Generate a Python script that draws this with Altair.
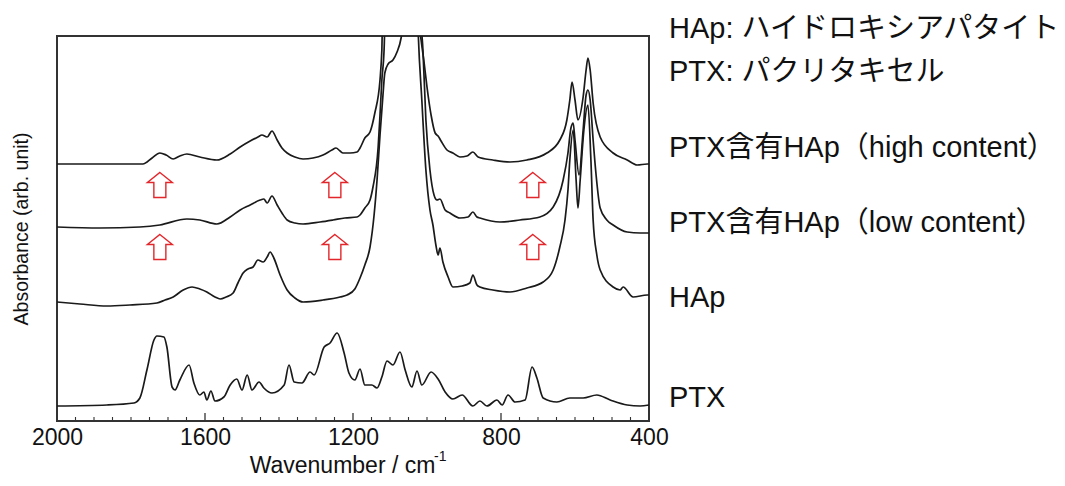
import altair as alt
import pandas as pd

# ---------------- data ----------------
HIGH_WN = [2000,1884,1768,1743,1722,1705,1686,1668,1649,1614,1568,1532,1505,1478,1457,1446,1432,1419,1405,1392,
           1378,1357,1335,1308,1281,1257,1246,1235,1227,1208,1189,1181,1168,1154,1141,1127,1122,1111,1073,1030,
           1022,1016,1008,1000,989,978,970,962,946,930,911,892,876,862,822,776,730,676,641,622,
           614,608,600,592,578,570,565,559,551,532,497,459,432,405,400]
HIGH_ABS = [257,257,257,263,268,266,262,265,267,264,261,267,274,280,284,286,284,290,281,273,
            268,264,262,263,266,271,273,270,268,268,269,273,283,289,308,341,371,571,821,571,
            401,381,359,334,306,288,285,280,271,268,264,265,269,264,261,259,261,268,281,301,
            321,339,321,301,324,351,363,351,318,284,268,261,256,257,257]

LOW_WN = [2000,1884,1776,1722,1649,1614,1568,1532,1505,1478,1451,1441,1432,1419,1405,1392,1378,1357,1335,1289,
          1254,1222,1189,1181,1168,1154,1146,1132,1127,1122,1116,1105,1068,1027,1016,1011,1003,992,981,973,
          965,951,938,911,889,876,865,857,803,749,695,659,632,619,611,605,600,589,578,570,
          565,559,551,543,532,514,497,459,424,400]
LOW_ABS = [194,193,194,196,202,201,197,204,211,216,221,222,218,225,216,208,201,198,197,199,
           201,203,204,206,213,221,234,274,306,341,371,571,871,571,401,371,301,251,226,221,
           222,211,208,203,204,209,204,203,199,201,204,214,241,268,293,298,281,246,291,326,
           331,321,281,246,213,201,196,189,188,188]

HAP_WN = [2000,1938,1865,1803,1730,1708,1686,1659,1635,1614,1595,1573,1559,1543,1524,1511,1497,1484,1470,1457,
          1443,1432,1424,1414,1397,1378,1357,1335,1281,1235,1216,1195,1181,1168,1154,1143,1135,1127,1119,1114,
          1105,1092,1081,1070,1065,1046,1030,1024,1014,1003,992,984,976,970,965,957,943,930,905,884,
          876,865,857,822,776,730,686,659,641,627,619,614,605,597,592,586,576,565,557,551,
          541,532,497,478,470,443,405,400]
HAP_ABS = [119,117,115,116,118,121,124,131,134,132,129,124,122,124,128,138,148,152,154,161,
           159,164,169,163,146,131,123,119,121,124,126,132,143,156,174,206,241,286,326,348,
           357,361,369,383,396,621,471,391,321,251,211,196,176,166,173,159,144,134,135,138,
           146,136,134,131,129,133,139,151,174,201,231,261,291,241,213,241,291,316,261,201,
           166,151,134,131,134,124,126,126]

PTX_WN = [2000,1865,1792,1776,1757,1738,1730,1711,1703,1689,1681,1668,1643,1630,1614,1603,1595,1584,1573,1549,
          1532,1514,1500,1486,1473,1454,1441,1419,1386,1373,1359,1338,1316,1305,1278,1262,1243,1224,1211,1195,
          1181,1168,1149,1135,1122,1108,1092,1073,1059,1041,1027,1014,989,970,951,930,905,876,857,838,
          811,797,781,762,735,716,703,686,649,614,578,541,505,459,424,400]
PTX_ABS = [15,16,18,23,51,81,85,84,74,34,31,41,56,38,26,29,21,30,20,24,
           36,42,31,46,31,39,33,28,36,56,39,38,49,46,74,78,88,68,48,41,
           52,36,36,33,44,60,56,69,51,34,50,36,49,42,29,22,26,15,20,15,
           21,16,26,19,21,54,43,23,19,23,23,26,21,16,15,16]

SERIES = ["high", "low", "HAp", "PTX"]

LABEL_TEXT = ["HAp: ハイドロキシアパタイト", "PTX: パクリタキセル",
              "PTX含有HAp（high content）", "PTX含有HAp（low content）", "HAp", "PTX"]
LABEL_ABS = [392, 349, 273, 198, 123, 23]

ARROW_WN = [1722, 1249, 714, 1722, 1249, 714]
ARROW_ABS = [236, 236, 236, 174, 174, 174]

X_LABELS = [2000, 1600, 1200, 800, 400]
MAJOR_TICKS = [1600, 1200, 800]
MINOR_TICKS = [1950, 1900, 1850, 1800, 1750, 1700, 1650, 1550, 1500, 1450, 1400, 1350, 1300, 1250,
               1150, 1100, 1050, 1000, 950, 900, 850, 750, 700, 650, 600, 550, 500, 450]

# ---------------- build tables ----------------
frames = []
for name, wn, ab in zip(SERIES, [HIGH_WN, LOW_WN, HAP_WN, PTX_WN], [HIGH_ABS, LOW_ABS, HAP_ABS, PTX_ABS]):
    frames.append(pd.DataFrame({"wn": wn, "abs": ab, "series": name, "order": list(range(len(wn)))}))
spectra = pd.concat(frames, ignore_index=True)

labels = pd.DataFrame({"text": LABEL_TEXT, "abs": LABEL_ABS})
arrows = pd.DataFrame({"wn": ARROW_WN, "abs": ARROW_ABS})
major = pd.DataFrame({"wn": MAJOR_TICKS})
minor = pd.DataFrame({"wn": MINOR_TICKS})

FONT = "Liberation Sans, Arial, Noto Sans CJK JP, sans-serif"
PLOT_W, PLOT_H = 592, 385

x_scale = alt.Scale(domain=[400, 2000], reverse=True, nice=False, zero=False)
y_scale = alt.Scale(domain=[0, 385], nice=False, zero=False)

x_axis = alt.Axis(values=X_LABELS, format="d", title="Wavenumber / cm", ticks=False, domain=False,
                  grid=False, labelFontSize=23, labelPadding=5, labelFont=FONT, labelColor="#111",
                  labelFlush=False, titleFont=FONT, titleFontSize=23, titleFontWeight="normal",
                  titleColor="#111", titlePadding=5, titleX=285)
y_axis = alt.Axis(labels=False, ticks=False, domain=False, grid=False,
                  title="Absorbance (arb. unit)", titleFont=FONT, titleFontSize=19.5,
                  titleFontWeight="normal", titleColor="#111", titlePadding=26)

X = alt.X("wn:Q", scale=x_scale, axis=x_axis)
Y = alt.Y("abs:Q", scale=y_scale, axis=y_axis)

lines = alt.Chart(spectra).mark_line(color="#1a1a1a", strokeWidth=1.7, clip=True,
                                     interpolate="monotone").encode(
    x=X, y=Y, detail="series:N", order="order:Q",
)

major_ticks = alt.Chart(major).mark_rule(color="#333", strokeWidth=1.3).encode(
    x=X, y=alt.value(PLOT_H), y2=alt.value(PLOT_H - 8),
)
minor_ticks = alt.Chart(minor).mark_rule(color="#333", strokeWidth=1.1).encode(
    x=X, y=alt.value(PLOT_H), y2=alt.value(PLOT_H - 4),
)

ARROW_PATH = "M0,-1 L1,-0.2 L0.48,-0.2 L0.48,1 L-0.48,1 L-0.48,-0.2 L-1,-0.2 Z"
arrow_marks = alt.Chart(arrows).mark_point(shape=ARROW_PATH, filled=False, color="#e3262b",
                                           strokeWidth=1.4, size=625, opacity=1).encode(
    x=X, y=Y,
)

label_marks = alt.Chart(labels).mark_text(align="left", baseline="middle", fontSize=29, font=FONT,
                                          color="#111").encode(
    x=alt.value(612), y=Y, text="text:N",
)

sup = alt.Chart(pd.DataFrame({"t": ["-1"]})).mark_text(align="left", baseline="middle", fontSize=14,
                                                        font=FONT, color="#111").encode(
    x=alt.value(377), y=alt.value(421), text="t:N",
)

chart = alt.layer(lines, major_ticks, minor_ticks, arrow_marks, label_marks, sup).properties(
    width=PLOT_W, height=PLOT_H,
    autosize=alt.AutoSizeParams(type="none"),
    padding={"left": 57, "top": 36, "right": 416, "bottom": 65},
    background="white",
).configure_view(stroke="#333", strokeWidth=2)

chart.save("out.html", embed_options={"renderer": "svg", "actions": False})
